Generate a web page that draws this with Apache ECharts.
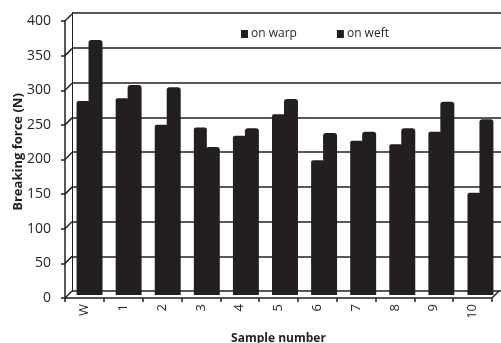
<!DOCTYPE html>
<html><head><meta charset="utf-8">
<script src="https://cdn.jsdelivr.net/npm/echarts@6/dist/echarts.min.js"></script>
<style>html,body{margin:0;padding:0;background:#fff}#c{width:501px;height:343px}</style>
</head><body><div id="c"></div>
<script>
const categories = ['W','1','2','3','4','5','6','7','8','9','10'];
const warp = [279, 283, 245, 241, 229, 260, 194, 222, 217, 235, 147];
const weft = [367, 302, 299, 213, 240, 282, 233, 235, 240, 278, 253];
const yTicks = [0, 50, 100, 150, 200, 250, 300, 350, 400];
const seriesNames = ['on warp', 'on weft'];

const FONT = 'Open Sans';
const ink = '#231f20';
const chart = echarts.init(document.getElementById('c'));
chart.setOption({
  animation: false,
  backgroundColor: '#fff',
  textStyle: {fontFamily: FONT, color: ink},
  legend: {
    left: 236, top: 23, itemWidth: 7, itemHeight: 8, itemGap: 40,
    icon: 'rect',
    textStyle: {fontFamily: FONT, fontSize: 12, color: ink, padding: [0,0,0,-2]},
    data: seriesNames
  },
  grid: [
    {left: 72, right: 0, top: 13, bottom: 52, outerBoundsMode: 'none', containLabel: false},
    {left: 65, right: 9, top: 21, bottom: 45, outerBoundsMode: 'none', containLabel: false},
    {left: 70, right: 1, top: 17, bottom: 48, outerBoundsMode: 'none', containLabel: false}
  ],
  xAxis: [
    {gridIndex: 0, type: 'category', data: categories, show: false},
    {gridIndex: 1, type: 'category', data: categories,
     axisLine: {lineStyle: {color: ink, width: 1.5}},
     axisTick: {show: true, length: 4, lineStyle: {color: ink, width: 1.5}},
     axisLabel: {rotate: 90, margin: 6, fontSize: 13, color: ink, fontFamily: FONT},
     name: 'Sample number', nameLocation: 'middle', nameGap: 35, nameMoveOverlap: false,
     nameTextStyle: {fontSize: 12, fontWeight: 'bold', color: ink, fontFamily: FONT}},
    {gridIndex: 2, type: 'category', data: categories, show: false}
  ],
  yAxis: [
    {gridIndex: 0, type: 'value', min: 0, max: 400, interval: 50,
     axisLabel: {show: false}, axisTick: {show: false},
     axisLine: {show: true, lineStyle: {color: ink, width: 1}},
     splitLine: {lineStyle: {color: ink, width: 1.5}}},
    {gridIndex: 1, type: 'value', min: 0, max: 400, interval: 50,
     splitLine: {show: false},
     axisLine: {show: true, lineStyle: {color: ink, width: 1.5}},
     axisTick: {show: true, length: 4, lineStyle: {color: ink, width: 1.5}},
     axisLabel: {fontSize: 14, color: ink, margin: 14, fontFamily: FONT},
     name: 'Breaking force (N)', nameLocation: 'middle', nameGap: 40, nameMoveOverlap: false,
     nameTextStyle: {fontSize: 13, fontWeight: 'bold', color: ink, fontFamily: FONT, padding: [0,0,0,15]}},
    {gridIndex: 2, type: 'value', min: 0, max: 400, show: false}
  ],
  series: [
    {type: 'custom', xAxisIndex: 1, yAxisIndex: 1, silent: true,
     data: yTicks.map(v => [0, v]),
     renderItem: function(params, api) {
       const x0 = params.coordSys.x;
       const y = api.coord([0, api.value(1)])[1];
       return {type: 'line', shape: {x1: x0, y1: y, x2: x0 + 7, y2: y - 7},
               style: {stroke: ink, lineWidth: 1.5}};
     }},
    {type: 'custom', xAxisIndex: 1, yAxisIndex: 1, silent: true,
     data: [[0, 0]],
     renderItem: function(params, api) {
       const cs = params.coordSys;
       const x1 = cs.x + cs.width;
       const y = api.coord([0, 0])[1];
       return {type: 'line', shape: {x1: x1, y1: y, x2: x1 + 7, y2: y - 7},
               style: {stroke: ink, lineWidth: 1.5}};
     }},
    {name: seriesNames[0], type: 'bar', xAxisIndex: 2, yAxisIndex: 2, data: warp,
     barWidth: 13, barGap: '-8%', itemStyle: {color: ink, borderRadius: [2,2,0,0]}},
    {name: seriesNames[1], type: 'bar', xAxisIndex: 2, yAxisIndex: 2, data: weft,
     barWidth: 14, itemStyle: {color: ink, borderRadius: [3,3,0,0]}}
  ]
});
</script></body></html>
